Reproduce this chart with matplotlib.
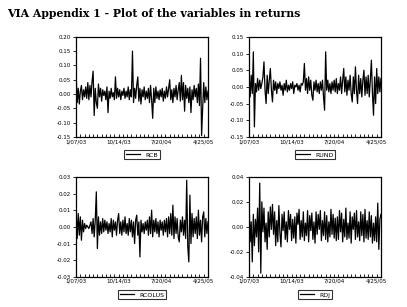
import numpy as np
import matplotlib
matplotlib.use("Agg")
import matplotlib.pyplot as plt
from matplotlib.ticker import MultipleLocator

RCB = [0.07, -0.03, 0.02, -0.035, 0.01, 0.03, -0.02, 0.015, -0.01, 0.025,
       -0.015, 0.04, -0.02, 0.03, -0.01, 0.045, 0.08, -0.075, 0.02, -0.03,
       -0.05, 0.035, -0.01, 0.02, -0.025, 0.015, -0.005, 0.01, -0.02, 0.025,
       -0.065, 0.01, -0.015, 0.02, -0.01, 0.005, -0.02, 0.06, -0.015, 0.02,
       -0.01, 0.015, -0.02, 0.01, -0.005, 0.02, -0.015, 0.01, -0.01, 0.025,
       -0.02, 0.015, -0.01, 0.15, -0.03, 0.02, -0.015, 0.03, 0.06, -0.025,
       0.02, -0.035, 0.015, -0.01, 0.025, -0.02, 0.01, -0.015, 0.02, -0.03,
       0.03, -0.02, -0.085, 0.02, -0.03, 0.025, -0.015, 0.01, -0.02, 0.015,
       -0.01, 0.02, -0.025, 0.01, -0.015, 0.025, -0.01, 0.02, 0.05, -0.02,
       0.015, -0.03, 0.02, -0.01, 0.03, -0.02, 0.015, 0.04, -0.025, 0.065,
       -0.02, 0.04, -0.06, 0.03, -0.015, 0.02, -0.03, 0.025, -0.065, 0.015,
       -0.02, 0.03, -0.01, 0.02, -0.03, 0.035, -0.04, 0.125, -0.145, -0.05,
       0.04, -0.03, 0.025, -0.02, 0.01]

RUND = [0.04, -0.03, 0.035, -0.02, 0.105, -0.12, 0.01, -0.015, 0.025, -0.01,
        0.02, -0.005, 0.01, 0.03, 0.075, -0.01, -0.05, 0.035, -0.02, 0.02,
        0.055, -0.01, -0.045, 0.02, -0.01, 0.015, -0.02, 0.01, -0.005, 0.015,
        -0.01, 0.005, -0.025, 0.01, -0.01, 0.02, -0.015, 0.005, -0.01, 0.01,
        -0.005, 0.015, -0.02, 0.005, 0.0, 0.01, -0.01, 0.005, -0.015, 0.01,
        0.005, 0.015, 0.07, -0.01, 0.025, -0.02, 0.03, -0.01, 0.02, -0.025,
        -0.04, 0.015, -0.01, 0.02, -0.015, 0.01, -0.02, 0.015, -0.01, 0.02,
        -0.03, -0.07, 0.105, -0.01, 0.02, -0.015, 0.01, -0.02, 0.015, -0.01,
        0.02, -0.015, 0.025, -0.02, 0.01, -0.01, 0.03, -0.02, 0.02, 0.055,
        -0.015, 0.03, -0.025, 0.02, -0.01, 0.035, -0.02, -0.045, 0.03, -0.02,
        0.06, -0.01, -0.05, 0.035, -0.02, 0.025, -0.03, 0.02, 0.05, -0.025,
        0.03, -0.02, 0.035, -0.03, 0.02, 0.08, -0.02, -0.085, 0.03, -0.05,
        0.055, -0.02, 0.03, -0.015, 0.025]

RCOLUS = [0.01, -0.007, 0.008, -0.005, 0.006, -0.008, 0.004, -0.003, 0.002, -0.001,
          0.001, 0.0, -0.001, 0.001, 0.003, -0.004, 0.005, -0.006, 0.004, 0.021,
          -0.013, 0.006, -0.005, 0.003, -0.004, 0.005, -0.003, 0.004, -0.002, 0.003,
          -0.004, 0.002, -0.003, 0.005, -0.006, 0.004, -0.002, 0.003, -0.005, 0.004,
          0.008, -0.004, 0.003, -0.005, 0.004, -0.003, 0.006, -0.004, 0.002, -0.005,
          0.005, -0.003, 0.004, -0.006, 0.003, -0.01, 0.004, 0.007, -0.005, 0.003,
          -0.018, 0.004, -0.003, 0.002, -0.004, 0.003, -0.002, 0.004, -0.005, 0.006,
          -0.004, 0.01, -0.006, 0.004, -0.003, 0.005, -0.004, 0.003, -0.006, 0.004,
          -0.002, 0.003, -0.005, 0.004, -0.003, 0.005, -0.006, 0.006, -0.004, 0.008,
          -0.005, 0.013, -0.007, 0.006, -0.004, 0.005, -0.006, -0.009, 0.004, -0.003,
          0.006, -0.005, 0.004, -0.007, 0.028, -0.012, -0.021, 0.019, -0.01, 0.008,
          -0.006, 0.005, -0.004, 0.006, -0.007, 0.01, -0.005, 0.004, -0.009, 0.006,
          0.009, -0.006, 0.005, -0.004, 0.003]

RDJ = [0.02, -0.012, 0.004, -0.028, 0.01, -0.015, 0.006, -0.008, 0.015, -0.02,
       0.035, -0.037, 0.02, -0.004, 0.015, -0.012, 0.003, -0.018, 0.012, -0.008,
       0.016, -0.002, 0.018, -0.006, 0.012, -0.015, 0.005, -0.012, 0.017, -0.005,
       -0.016, 0.01, -0.003, 0.012, -0.01, 0.004, -0.012, 0.013, -0.002, 0.01,
       -0.011, 0.006, -0.009, 0.008, -0.013, 0.011, 0.002, 0.014, -0.01, 0.005,
       -0.008, 0.012, -0.011, 0.003, -0.007, 0.013, -0.012, 0.009, -0.003, 0.011,
       -0.01, 0.004, -0.013, 0.012, -0.006, 0.01, -0.002, 0.013, -0.011, 0.005,
       -0.007, 0.012, -0.01, 0.009, -0.012, 0.004, -0.008, 0.014, -0.006, 0.01,
       -0.009, 0.007, -0.011, 0.008, -0.01, 0.013, -0.004, 0.011, -0.012, 0.006,
       -0.008, 0.015, -0.01, 0.003, -0.009, 0.012, -0.013, 0.008, -0.002, 0.011,
       -0.01, 0.013, -0.008, 0.004, -0.011, 0.012, -0.007, 0.01, -0.012, 0.014,
       -0.009, 0.005, -0.01, 0.012, -0.008, 0.009, -0.013, 0.003, -0.011, 0.008,
       -0.012, 0.019, -0.018, 0.006, 0.01]

tick_pos = [0, 200, 400, 600]
tick_labels = ["1/07/03", "10/14/03", "7/20/04", "4/25/05"]

panels = [
    ("RCB", RCB, (-0.15, 0.20), 0.05, [0.187, 0.554, 0.324, 0.326]),
    ("RUND", RUND, (-0.15, 0.15), 0.05, [0.612, 0.554, 0.324, 0.326]),
    ("RCOLUS", RCOLUS, (-0.03, 0.03), 0.01, [0.187, 0.098, 0.324, 0.326]),
    ("RDJ", RDJ, (-0.04, 0.04), 0.02, [0.612, 0.098, 0.324, 0.326]),
]

fig = plt.figure(figsize=(4.07, 3.07), dpi=100)
fig.text(0.017, 0.955, "VIA Appendix 1 - Plot of the variables in returns",
         family="DejaVu Serif", weight="bold", fontsize=7.8, va="center", ha="left")

for name, vals, ylim, step, rect in panels:
    ax = fig.add_axes(rect)
    x = np.arange(len(vals)) * 5
    ax.plot(x, vals, color="black", lw=0.9, label=name)
    ax.set_xlim(0, 620)
    ax.set_ylim(*ylim)
    ax.yaxis.set_major_locator(MultipleLocator(step))
    ax.yaxis.set_major_formatter(plt.FuncFormatter(lambda v, p: "%.2f" % v))
    ax.set_xticks(tick_pos)
    ax.set_xticklabels(tick_labels)
    ax.xaxis.set_minor_locator(MultipleLocator(20))
    ax.tick_params(axis="x", which="both", direction="in", length=2,
                   width=0.6, labelsize=4, pad=1.5, colors="black")
    ax.tick_params(axis="y", direction="out", length=2.5, width=0.6,
                   labelsize=4, pad=1)
    for s in ax.spines.values():
        s.set_linewidth(0.9)
    leg = ax.legend(loc="center", bbox_to_anchor=(0.5, -0.18), fontsize=4.5,
                    handlelength=2.2, borderpad=0.3, frameon=True, fancybox=False)
    leg.get_frame().set_edgecolor("black")
    leg.get_frame().set_linewidth(0.8)

fig.savefig("out.png", dpi=100)
